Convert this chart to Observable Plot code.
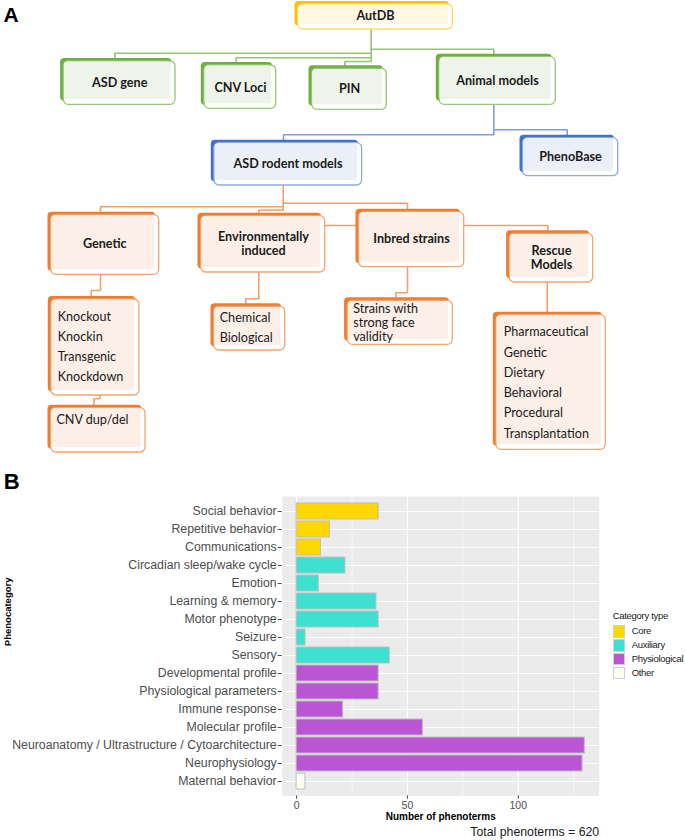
<!DOCTYPE html>
<html><head><meta charset="utf-8">
<script src="https://cdn.jsdelivr.net/npm/d3@7"></script>
<script src="https://cdn.jsdelivr.net/npm/@observablehq/plot@0.6"></script>
<style>
html,body{margin:0;padding:0;background:#fff;}
#wrap{position:relative;width:685px;height:840px;overflow:hidden;background:#fff;}
#wrap svg{display:block;}
.lg{position:absolute;font-family:"Liberation Sans",Arial,sans-serif;color:#1a1a1a;white-space:nowrap;letter-spacing:-0.3px;}
</style></head><body>
<div id="wrap"><div id="panelA"></div><div id="panelB"></div></div>
<script>
// ---------------- Panel B data ----------------
const categories = ["Social behavior","Repetitive behavior","Communications","Circadian sleep/wake cycle","Emotion","Learning & memory","Motor phenotype","Seizure","Sensory","Developmental profile","Physiological parameters","Immune response","Molecular profile","Neuroanatomy / Ultrastructure / Cytoarchitecture","Neurophysiology","Maternal behavior"];
const counts = [37,15,11,22,10,36,37,4,42,37,37,21,57,130,129,4];
const categoryTypes = ["Core","Core","Core","Auxiliary","Auxiliary","Auxiliary","Auxiliary","Auxiliary","Auxiliary","Physiological","Physiological","Physiological","Physiological","Physiological","Physiological","Other"];
const typeNames = ["Core","Auxiliary","Physiological","Other"];
const typeColors = ["#FFD700","#40E0D0","#BA55D3","#FFFFF0"];
const xTicks = [0,50,100];
const xMinorTicks = [25,75,125];
const xTitle = "Number of phenoterms";
const yTitle = "Phenocategory";
const totalLabel = "Total phenoterms = 620";
const legendTitle = "Category type";

// ---------------- Panel A data (diagram) ----------------
const treeNodes = [
  {id:"autdb", lines:["AutDB"]},
  {id:"asdgene", lines:["ASD gene"]},
  {id:"cnv", lines:["CNV Loci"]},
  {id:"pin", lines:["PIN"]},
  {id:"animal", lines:["Animal models"]},
  {id:"rodent", lines:["ASD rodent models"]},
  {id:"phenobase", lines:["PhenoBase"]},
  {id:"genetic", lines:["Genetic"]},
  {id:"env", lines:["Environmentally","induced"]},
  {id:"inbred", lines:["Inbred strains"]},
  {id:"rescue", lines:["Rescue","Models"]},
  {id:"knock", lines:["Knockout","Knockin","Transgenic","Knockdown"]},
  {id:"cnvdup", lines:["CNV dup/del"]},
  {id:"chem", lines:["Chemical","Biological"]},
  {id:"strains", lines:["Strains with","strong face","validity"]},
  {id:"rescuelist", lines:["Pharmaceutical","Genetic","Dietary","Behavioral","Procedural","Transplantation"]}
];
// diagram layout (box x1,y1,x2,y2 ; text anchor point ; line step)
const layoutA = {
  autdb:     {theme:"yellow", box:[297.7,4,452.3,29],    t:[375,15.7],   step:0,    bold:true,  anchor:"middle"},
  asdgene:   {theme:"green",  box:[63.3,61,175,104.3],   t:[119.2,82.3], step:0,    bold:true,  anchor:"middle"},
  cnv:       {theme:"green",  box:[204,65,275.7,108.3],  t:[240,87.3],   step:0,    bold:true,  anchor:"middle"},
  pin:       {theme:"green",  box:[311.7,68.3,386.3,109.3], t:[349,88.3], step:0,   bold:true,  anchor:"middle"},
  animal:    {theme:"green",  box:[439,56.7,555.3,104.3],t:[497,80],     step:0,    bold:true,  anchor:"middle"},
  rodent:    {theme:"blue",   box:[214,142.7,361.6,185], t:[287.5,163.3],step:0,    bold:true,  anchor:"middle"},
  phenobase: {theme:"blue",   box:[522.7,137.7,617.7,175.7], t:[570,156], step:0,   bold:true,  anchor:"middle"},
  genetic:   {theme:"orange", box:[50.7,214.7,158.7,274.3], t:[104.3,243.3], step:0, bold:true, anchor:"middle"},
  env:       {theme:"orange", box:[200.7,215.7,324.7,272], t:[263,236.3], step:14.2, bold:true, anchor:"middle"},
  inbred:    {theme:"orange", box:[358.7,211.7,463.7,266.7], t:[411,238.7], step:0, bold:true, anchor:"middle"},
  rescue:    {theme:"orange", box:[509.3,233.3,592.7,282], t:[551,250.1], step:14.6, bold:true, anchor:"middle"},
  knock:     {theme:"orange", box:[51,299,138.9,395],     t:[57.2,316],   step:20.2, bold:false, anchor:"start"},
  cnvdup:    {theme:"orange", box:[50.7,407.7,145,452],   t:[55.9,419.3], step:0,    bold:false, anchor:"start"},
  chem:      {theme:"orange", box:[213.7,306.3,284.7,350],t:[219.2,317.3],step:20.4, bold:false, anchor:"start"},
  strains:   {theme:"orange", box:[347.3,300.3,452.3,344.3], t:[352.7,308], step:14.35, bold:false, anchor:"start"},
  rescuelist:{theme:"orange", box:[496,314.7,605.3,449.3], t:[503.3,331.7], step:20.3, bold:false, anchor:"start"}
};
const connectorsA = [
  {theme:"green", pts:[[370.7,29],[370.7,61]]},
  {theme:"green", pts:[[370.7,52.7],[114.3,52.7],[114.3,58]]},
  {theme:"green", pts:[[370.7,57.3],[235.7,57.3],[235.7,62]]},
  {theme:"green", pts:[[370.7,61],[344.3,61],[344.3,66]]},
  {theme:"green", pts:[[370.7,48.7],[493.3,48.7],[493.3,54]]},
  {theme:"blue", pts:[[493.3,104.3],[493.3,134.3],[283,134.3],[283,140]]},
  {theme:"blue", pts:[[493.3,129.3],[566.7,129.3],[566.7,135]]},
  {theme:"orange", pts:[[282.7,185],[282.7,209.5]]},
  {theme:"orange", pts:[[282.7,206.3],[100,206.3],[100,211]]},
  {theme:"orange", pts:[[282.7,209.5],[258.3,209.5],[258.3,213]]},
  {theme:"orange", pts:[[282.7,202.7],[407,202.7],[407,209]]},
  {theme:"orange", pts:[[324.7,225],[355.7,225]]},
  {theme:"orange", pts:[[463.7,225],[547.3,225],[547.3,231]]},
  {theme:"orange", pts:[[100,274.3],[100,290],[90.7,290],[90.7,296]]},
  {theme:"orange", pts:[[99.6,395],[99.6,398.3],[93.4,398.3],[93.4,404.3]]},
  {theme:"orange", pts:[[258.3,272],[258.3,298.3],[245.3,298.3],[245.3,303.3]]},
  {theme:"orange", pts:[[407,266.7],[407,292.3],[395.3,292.3],[395.3,297.7]]},
  {theme:"orange", pts:[[546.7,282],[546.7,311.7]]}
];
const themes = {
  yellow:{dark:"#FFC000", fill:"#FFF8E3", edge:"#FFD966", link:"#8FC46C"},
  green: {dark:"#70AD47", fill:"#EFF4EA", edge:"#95C776", link:"#93C572"},
  blue:  {dark:"#4472C4", fill:"#EAEFF8", edge:"#8FAADC", link:"#7F9FD8"},
  orange:{dark:"#ED7D31", fill:"#FBEFE8", edge:"#F4A46E", link:"#F2A06A"}
};

// ---------- build panel A ----------
const boxes = treeNodes.map(n => ({...n, ...layoutA[n.id]}));
const darkRects = boxes.map(b => ({x1:b.box[0]-3.2, y1:b.box[1]-3, x2:b.box[2]-3.5, y2:b.box[3]-3.5, c:themes[b.theme].dark}));
const whiteRects = boxes.map(b => ({x1:b.box[0], y1:b.box[1], x2:b.box[2], y2:b.box[3], s:themes[b.theme].edge}));
const fillRects = boxes.map(b => ({x1:b.box[0]+0.6, y1:b.box[1]+0.6, x2:b.box[2]-4.5, y2:b.box[3]-5, c:themes[b.theme].fill}));
const textLines = boxes.flatMap(b => b.lines.map((s,i) => ({x:b.t[0], y:b.t[1] + i*b.step, s, bold:b.bold})));
const linkPts = connectorsA.flatMap((c,i) => c.pts.map(p => ({x:p[0], y:p[1], id:i, c:themes[c.theme].link})));

const plotA = Plot.plot({
  width:685, height:465, margin:0,
  x:{type:"identity", axis:null}, y:{type:"identity", axis:null}, color:{type:"identity"},
  style:{background:"white"},
  marks:[
    Plot.line(linkPts, {x:"x", y:"y", z:"id", stroke:"c", strokeWidth:1.6, strokeLinejoin:"miter"}),
    Plot.rect(darkRects, {x1:"x1", y1:"y1", x2:"x2", y2:"y2", fill:"c", rx:4}),
    Plot.rect(whiteRects, {x1:"x1", y1:"y1", x2:"x2", y2:"y2", fill:"white", stroke:"s", strokeWidth:1.3, rx:5}),
    Plot.rect(fillRects, {x1:"x1", y1:"y1", x2:"x2", y2:"y2", fill:"c", rx:3}),
    Plot.text(textLines.filter(d=>d.bold), {x:"x", y:"y", text:"s", textAnchor:"middle", fontFamily:"Lato", fontWeight:"bold", fontSize:12.6, fill:"#1a1a1a"}),
    Plot.text(textLines.filter(d=>!d.bold), {x:"x", y:"y", text:"s", textAnchor:"start", fontFamily:"Lato", fontSize:12.6, fill:"#1a1a1a"}),
    Plot.text(["A"], {x:3, y:14.5, text:d=>d, textAnchor:"start", fontFamily:"Liberation Sans", fontWeight:"bold", fontSize:21, fill:"black"})
  ]
});
document.getElementById("panelA").append(plotA);

// ---------- build panel B ----------
const rows = categories.map((c,i) => ({category:c, count:counts[i], type:categoryTypes[i]}));
const plotB = Plot.plot({
  width:685, height:375,
  marginTop:31, marginBottom:44.7, marginLeft:281.7, marginRight:86.3,
  style:{fontFamily:"Liberation Sans, Arial, sans-serif", background:"white", overflow:"visible"},
  x:{domain:[-6.5,136.5]},
  y:{domain:categories, paddingInner:0.1, paddingOuter:0.15},
  color:{domain:typeNames, range:typeColors},
  marks:[
    Plot.frame({fill:"#EBEBEB", stroke:null}),
    Plot.ruleX(xMinorTicks, {stroke:"white", strokeWidth:0.6}),
    Plot.gridX({ticks:xTicks, stroke:"white", strokeOpacity:1, strokeWidth:1.1}),
    Plot.gridY({stroke:"white", strokeOpacity:1, strokeWidth:1.1}),
    Plot.barX(rows, {x:"count", y:"category", fill:"type", stroke:"#BDBDBD", strokeWidth:1}),
    Plot.axisY({tickSize:4, tickPadding:1.5, fontSize:12.3, color:"#4D4D4D", label:null}),
    Plot.axisX({ticks:xTicks, tickSize:3.5, tickPadding:2, fontSize:10.5, color:"#4D4D4D", label:null}),
    Plot.text([xTitle], {frameAnchor:"bottom", lineAnchor:"middle", dy:21.4, fontSize:10, fontWeight:"bold", fill:"black"}),
    Plot.text([totalLabel], {frameAnchor:"bottom-right", textAnchor:"end", lineAnchor:"middle", dy:36.7, fontSize:12.3, fill:"#1a1a1a"}),
    Plot.text([yTitle], {frameAnchor:"left", rotate:-90, dx:-274.5, lineAnchor:"middle", fontSize:9.5, fontWeight:"bold", fill:"black"}),
    Plot.text(["B"], {frameAnchor:"top-left", textAnchor:"start", lineAnchor:"middle", dx:-278.5, dy:-14.8, fontSize:22, fontWeight:"bold", fill:"black"})
  ]
});
document.getElementById("panelB").append(plotB);

// ---------- legend ----------
const wrap = document.getElementById("wrap");
const t = document.createElement("div");
t.className = "lg";
Object.assign(t.style, {left:"612.7px", top:"609.7px", fontSize:"9.5px", lineHeight:"12px"});
t.textContent = legendTitle;
wrap.append(t);
typeNames.forEach((name,i) => {
  const top = 625.3 + i*13.9;
  const sw = document.createElement("div");
  Object.assign(sw.style, {position:"absolute", left:"612.7px", top:top+"px", width:"12.3px", height:"12.4px", background:typeColors[i], boxSizing:"border-box", border:"0.6px solid #D0D0D0"});
  wrap.append(sw);
  const lb = document.createElement("div");
  lb.className = "lg";
  Object.assign(lb.style, {left:"631.7px", top:top+"px", fontSize:"9.5px", lineHeight:"12.4px"});
  lb.textContent = name;
  wrap.append(lb);
});
</script>
</body></html>
